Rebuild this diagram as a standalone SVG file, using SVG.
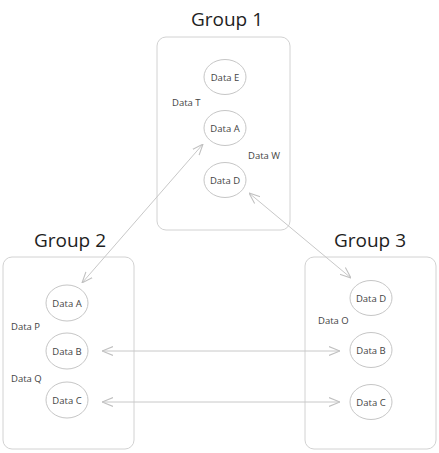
<svg xmlns="http://www.w3.org/2000/svg" width="439" height="453" viewBox="0 0 439 453">
<style>
.box{fill:#fff;stroke:#d2d2d2;stroke-width:1}
.node{fill:#fff;stroke:#c6c6c6;stroke-width:1}
.title{font-family:"Open Sans","Noto Sans",sans-serif;font-size:19px;fill:#1e1e1e;text-anchor:middle;dominant-baseline:central}
.lbl{font-family:"Open Sans","Noto Sans",sans-serif;font-size:9.5px;fill:#444;text-anchor:middle;dominant-baseline:central}
.el{font-family:"Open Sans","Noto Sans",sans-serif;font-size:9.5px;fill:#444;dominant-baseline:central}
.con{fill:none;stroke:#c8c8c8;stroke-width:1}
</style>
<defs>
<marker id="arr" viewBox="0 0 10 10" refX="10" refY="5" markerWidth="11" markerHeight="11" markerUnits="userSpaceOnUse" orient="auto-start-reverse">
<path d="M0,1 L10,5 L0,9" fill="none" stroke="#c0c0c0" stroke-width="1"/>
</marker>
</defs>
<rect width="439" height="453" fill="#fff"/>
<g id="group1">
<text class="title" x="227" y="19">Group 1</text>
<rect class="box" x="157" y="37" width="133" height="193" rx="9"/>
<text class="el" x="172" y="102">Data T</text>
<text class="el" x="248" y="155">Data W</text>
</g>
<g id="group2">
<text class="title" x="70" y="240">Group 2</text>
<rect class="box" x="3" y="257" width="131" height="192" rx="9"/>
<text class="el" x="11" y="326">Data P</text>
<text class="el" x="11" y="378">Data Q</text>
</g>
<g id="group3">
<text class="title" x="370" y="240">Group 3</text>
<rect class="box" x="305" y="257" width="131" height="192" rx="9"/>
<text class="el" x="318" y="320">Data O</text>
</g>
<g id="g1-dataE"><ellipse class="node" cx="225" cy="77" rx="21" ry="17.5"/><text class="lbl" x="225" y="77">Data E</text></g>
<g id="g1-dataA"><ellipse class="node" cx="225" cy="128" rx="21" ry="17.5"/><text class="lbl" x="225" y="128">Data A</text></g>
<g id="g1-dataD"><ellipse class="node" cx="225" cy="180" rx="21" ry="17.5"/><text class="lbl" x="225" y="180">Data D</text></g>
<g id="g2-dataA"><ellipse class="node" cx="67" cy="303" rx="21" ry="18"/><text class="lbl" x="67" y="303">Data A</text></g>
<g id="g2-dataB"><ellipse class="node" cx="67" cy="351" rx="21" ry="18"/><text class="lbl" x="67" y="351">Data B</text></g>
<g id="g2-dataC"><ellipse class="node" cx="67" cy="400" rx="21" ry="18"/><text class="lbl" x="67" y="400">Data C</text></g>
<g id="g3-dataD"><ellipse class="node" cx="371" cy="298" rx="21" ry="17.5"/><text class="lbl" x="371" y="298">Data D</text></g>
<g id="g3-dataB"><ellipse class="node" cx="371" cy="350" rx="21" ry="17.5"/><text class="lbl" x="371" y="350">Data B</text></g>
<g id="g3-dataC"><ellipse class="node" cx="371" cy="402" rx="21" ry="17.5"/><text class="lbl" x="371" y="402">Data C</text></g>
<g id="connectors">
<line class="con" x1="203" y1="144" x2="82" y2="283" marker-start="url(#arr)" marker-end="url(#arr)"/>
<line class="con" x1="249" y1="193" x2="351" y2="278" marker-start="url(#arr)" marker-end="url(#arr)"/>
<line class="con" x1="102" y1="351" x2="340" y2="351" marker-start="url(#arr)" marker-end="url(#arr)"/>
<line class="con" x1="102" y1="402" x2="340" y2="402" marker-start="url(#arr)" marker-end="url(#arr)"/>
</g>
</svg>
